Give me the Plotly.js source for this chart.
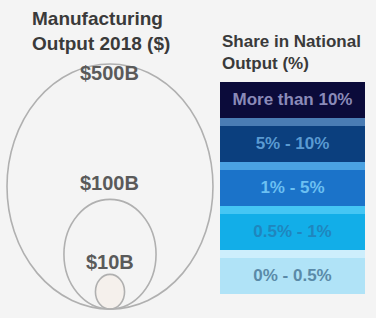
<!DOCTYPE html>
<html><head><meta charset="utf-8">
<script src="https://cdn.plot.ly/plotly-3.0.1.min.js"></script>
<style>html,body{margin:0;padding:0;background:#f4f4f4;}</style>
</head><body><div id="chart" style="width:376px;height:318px;"></div>
<script>
// Size legend: manufacturing output (billions of $)
const sizeValues = [500, 100, 10];
const sizeLabels = ["$500B", "$100B", "$10B"];
// Colour legend: share in national output
const shareCategories = ["More than 10%", "5% - 10%", "1% - 5%", "0.5% - 1%", "0% - 0.5%"];
const shareValues = [1, 1, 1, 1, 1];

// styling
const shareColors = ["#0b0b3a", "#0b3f7e", "#1b73c9", "#12aee8", "#b0e3f7"];
const shareTints  = ["rgba(0,0,0,0)", "#4a7cb4", "#4aa2e2", "#45c6f4", "#cdeefc"];
const shareText   = ["#8a8ab8", "#5a9ad2", "#6cc0f2", "#1f86be", "#5a8aa8"];
const labelShift  = [-9, 16, 12];

const radii = sizeValues.map(v => Math.sqrt(v));
const shapes = radii.map((r, i) => ({
  type: "circle", xref: "x", yref: "y",
  x0: -r, x1: r, y0: 0, y1: 2 * r,
  line: {color: "#b0b0b0", width: 1.6},
  fillcolor: i === 2 ? "rgba(250,232,218,0.3)" : "rgba(0,0,0,0)", layer: "above"
}));

const annotations = radii.map((r, i) => ({
  xref: "x", yref: "y", x: 0, y: 2 * r, text: sizeLabels[i],
  showarrow: false, yanchor: "middle", yshift: labelShift[i],
  font: {family: "Liberation Sans, Arial, sans-serif", size: 20, color: "#5a5a5a", weight: "bold"}
}));
annotations.push({
  xref: "paper", yref: "paper", x: 101 / 376, y: 1 - 6 / 318, xanchor: "center", yanchor: "top",
  text: "Manufacturing<br>Output 2018 ($)", showarrow: false, align: "left",
  font: {family: "Liberation Sans, Arial, sans-serif", size: 19, color: "#3a3a3a", weight: "bold"}
});
annotations.push({
  xref: "paper", yref: "paper", x: 220 / 376, y: 1 - 30 / 318, xanchor: "left", yanchor: "top",
  text: "Share in National<br>Output (%)", showarrow: false, align: "left",
  font: {family: "Liberation Sans, Arial, sans-serif", size: 17, color: "#3a3a3a", weight: "bold"}
});

const traces = [
  {type: "bar", orientation: "h", x: shareValues, y: shareCategories,
   xaxis: "x2", yaxis: "y2", width: 1, offset: -0.5,
   marker: {color: shareTints}, hoverinfo: "skip", showlegend: false},
  {type: "bar", orientation: "h", x: shareValues, y: shareCategories,
   xaxis: "x2", yaxis: "y2", width: 0.82, offset: -0.32,
   marker: {color: shareColors}, text: shareCategories,
   textposition: "inside", insidetextanchor: "middle", constraintext: "none",
   textfont: {family: "Liberation Sans, Arial, sans-serif", size: 17, color: shareText, weight: "bold"},
   hoverinfo: "skip", showlegend: false}
];

const layout = {
  width: 376, height: 318,
  margin: {l: 0, r: 0, t: 0, b: 0},
  paper_bgcolor: "#f4f4f4", plot_bgcolor: "rgba(0,0,0,0)",
  barmode: "overlay",
  xaxis: {domain: [0, 0.6], range: [-23.88, 25.10], visible: false, fixedrange: true},
  yaxis: {domain: [0, 1], range: [-1.64, 56.39], visible: false, fixedrange: true},
  xaxis2: {domain: [220 / 376, 365 / 376], range: [0, 1], visible: false, anchor: "y2"},
  yaxis2: {domain: [24 / 318, 244 / 318], type: "category", categoryarray: shareCategories,
           range: [4.5, -0.5], visible: false, anchor: "x2"},
  shapes: shapes,
  annotations: annotations
};

Plotly.newPlot("chart", traces, layout, {displayModeBar: false, staticPlot: true});
</script></body></html>
